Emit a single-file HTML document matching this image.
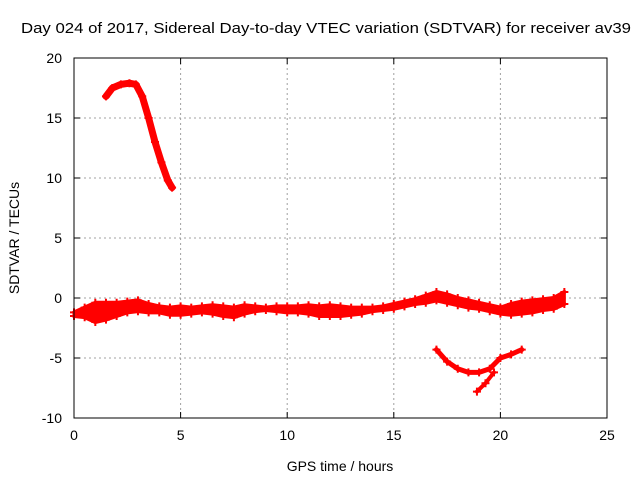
<!DOCTYPE html>
<html><head><meta charset="utf-8"><style>
body{margin:0;background:#fff}
svg{display:block;font-family:"Liberation Sans",Arial,sans-serif}
</style></head><body>
<svg id="chart" width="640" height="480">
<text x="326" y="33" font-size="15" text-anchor="middle" textLength="610" lengthAdjust="spacingAndGlyphs">Day 024 of 2017, Sidereal Day-to-day VTEC variation (SDTVAR) for receiver av39</text>
<text x="340" y="471" font-size="14" text-anchor="middle">GPS time / hours</text>
<text transform="translate(19,238) rotate(-90)" font-size="14" text-anchor="middle">SDTVAR / TECUs</text>
<g id="grid"></g><g id="marks"></g><g id="axes"></g>
</svg>
<script>
const xTicks=[0,5,10,15,20,25];
const yTicks=[-10,-5,0,5,10,15,20];
const highT=[1.5,1.8,2.2,2.6,2.9,3.2,3.5,3.8,4.1,4.4,4.6];
const highV=[16.8,17.5,17.8,17.9,17.8,16.8,15,13,11.3,9.8,9.2];
const bandT=[0,0.5,1,1.5,2,2.5,3,3.5,4,4.5,5,5.5,6,6.5,7,7.5,8,8.5,9,9.5,10,10.5,11,11.5,12,12.5,13,13.5,14,14.5,15,15.5,16,16.5,17,17.5,18,18.5,19,19.5,20,20.5,21,21.5,22,22.5,23];
const bandUpper=[-1.2,-0.8,-0.4,-0.4,-0.4,-0.3,-0.2,-0.5,-0.7,-0.8,-0.7,-0.8,-0.7,-0.6,-0.7,-0.8,-0.6,-0.7,-0.8,-0.7,-0.7,-0.7,-0.6,-0.7,-0.6,-0.7,-0.8,-0.8,-0.8,-0.7,-0.5,-0.3,-0.1,0.2,0.5,0.3,0,-0.2,-0.4,-0.6,-0.8,-0.5,-0.3,-0.2,-0.1,0,0.5];
const bandLower=[-1.5,-1.6,-2.0,-1.8,-1.5,-1.2,-1.1,-1.2,-1.2,-1.4,-1.4,-1.3,-1.2,-1.3,-1.5,-1.6,-1.3,-1.1,-1.0,-1.1,-1.2,-1.2,-1.3,-1.5,-1.5,-1.5,-1.4,-1.3,-1.1,-1.0,-0.9,-0.7,-0.5,-0.4,-0.2,-0.4,-0.6,-0.8,-0.9,-1.1,-1.3,-1.4,-1.3,-1.2,-1.0,-0.9,-0.5];
const vT=[17,17.5,18,18.5,19,19.5,20,20.5,21];
const vV=[-4.3,-5.3,-5.9,-6.2,-6.2,-5.9,-5.0,-4.7,-4.3];
const tailT=[18.9,19.3,19.7];
const tailV=[-7.8,-7.1,-6.2];
const X0=74,X1=607,Y0=418,Y1=58;
const sx=t=>X0+(t-0)/(25-0)*(X1-X0);
const sy=v=>Y0-(v+10)/30*(Y0-Y1);
const NS='http://www.w3.org/2000/svg';
function mk(tag,attrs,parent){const e=document.createElementNS(NS,tag);for(const k in attrs)e.setAttribute(k,attrs[k]);parent.appendChild(e);return e;}
const grid=document.getElementById('grid'),marks=document.getElementById('marks'),axes=document.getElementById('axes');
xTicks.forEach(t=>{
 if(t>0&&t<25){const g=mk('line',{x1:sx(t),x2:sx(t),y1:Y1,y2:Y0,stroke:'#a0a0a0','stroke-dasharray':'2,3'},grid);
 
 }
 mk('line',{x1:sx(t),x2:sx(t),y1:Y0,y2:Y0-6,stroke:'#000'},axes);
 mk('line',{x1:sx(t),x2:sx(t),y1:Y1,y2:Y1+6,stroke:'#000'},axes);
 const l=mk('text',{x:sx(t),y:Y0+22,'font-size':14,'text-anchor':'middle'},axes);l.textContent=t;
 
 
});
yTicks.forEach(v=>{
 if(v>-10&&v<20){const g=mk('line',{x1:X0,x2:X1,y1:sy(v),y2:sy(v),stroke:'#a0a0a0','stroke-dasharray':'2,3'},grid);
 
 }
 mk('line',{x1:X0,x2:X0+6,y1:sy(v),y2:sy(v),stroke:'#000'},axes);
 mk('line',{x1:X1,x2:X1-6,y1:sy(v),y2:sy(v),stroke:'#000'},axes);
 const l=mk('text',{x:X0-12,y:sy(v)+5,'font-size':14,'text-anchor':'end'},axes);l.textContent=v;
 
 
});
const frame=mk('rect',{x:X0,y:Y1,width:X1-X0,height:Y0-Y1,fill:'none',stroke:'#000'},axes);


const red='#ff0000';
function track(T,V,name,w){
 const p=mk('polyline',{points:T.map((t,i)=>sx(t)+','+sy(V[i])).join(' '),fill:'none',stroke:red,'stroke-width':w,'stroke-linejoin':'round','stroke-linecap':'round'},marks);
 
 
 T.forEach((t,i)=>{const x=sx(t),y=sy(V[i]);
  const m=mk('path',{d:`M${x-4},${y}h8M${x},${y-4}v8`,stroke:red,'stroke-width':2},marks);
  
  });
}
const bandPts=bandT.map((t,i)=>sx(t)+','+sy(bandUpper[i])).concat(bandT.map((t,i)=>sx(t)+','+sy(bandLower[i])).reverse()).join(' ');
const band=mk('polygon',{points:bandPts,fill:red,stroke:red,'stroke-width':3,'stroke-linejoin':'round'},marks);


track(bandT,bandUpper,'band-upper',4);
track(bandT,bandLower,'band-lower',4);
track(highT,highV,'high-track',7);
track(vT,vV,'lower-arc-track',5);
track(tailT,tailV,'tail-track',4);
</script>
</body></html>
